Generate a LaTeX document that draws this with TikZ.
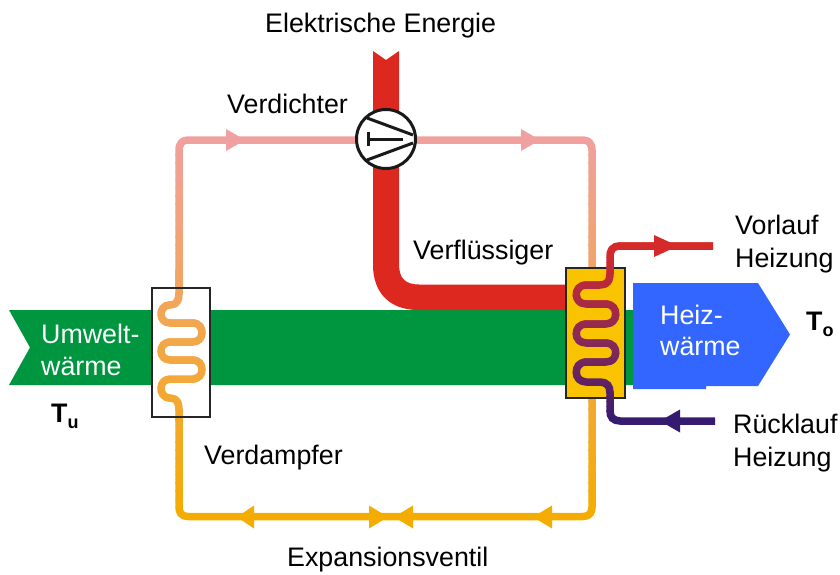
\documentclass[tikz,border=0pt]{standalone}
\usepackage{fontspec}
\setmainfont{Liberation Sans}
\definecolor{greenband}{HTML}{009640}
\definecolor{redfeed}{HTML}{DC281E}
\definecolor{blueheat}{HTML}{3366FF}
\definecolor{yellowbox}{HTML}{F9C300}
\definecolor{pipetop}{HTML}{F0A0A0}
\definecolor{pipebot}{HTML}{F4AC00}
\definecolor{hotred}{HTML}{D42A2A}
\definecolor{midmaroon}{HTML}{8E2A55}
\definecolor{coldpurple}{HTML}{351B70}
\newcommand{\lowsub}[1]{\raisebox{-6.5pt}{\fontsize{18}{20}\selectfont #1}}
\tikzset{
  lab/.style={inner sep=0pt,font=\fontsize{26.8}{30}\selectfont,align=left,text=black},
  whitelab/.style={lab,text=white},
  boldlab/.style={lab,font=\fontsize{26.8}{30}\selectfont\bfseries},
  pipeline/.style={line width=7.5pt,line cap=butt,line join=round},
  hxbox/.style={draw=black!85,line width=2.5pt},
  tip/.style={fill=#1,draw=none},
}
\begin{document}
\begin{tikzpicture}[x=1pt,y=-1pt]
\useasboundingbox (0,0) rectangle (840,575);
% green band
\fill[greenband] (9,310) -- (633,310) -- (633,385) -- (9,385) -- (30,347.5) -- cycle;
% red power feed
\fill[redfeed] (373,51) -- (386,60) -- (399,51) -- (399,264) .. controls (399,278) and (405,284.5) .. (419,284.5) -- (570,284.5) -- (570,310) -- (418,310) .. controls (390,310) and (373,293) .. (373,265) -- cycle;
% refrigerant circuit
\foreach \i in {0,...,47}{
  \pgfmathsetmacro{\ya}{130+\i*8.2}
  \pgfmathsetmacro{\pc}{100-\i*100/47}
  \colorlet{slice}{pipetop!\pc!pipebot}
  \begin{scope}
    \clip (0,\ya) rectangle (840,\ya+8.7);
    \draw[pipeline,slice] (179,296) -- (179,150) .. controls (179,144) and (182,140) .. (188,140) -- (583,140) .. controls (589,140) and (592,144) .. (592,150) -- (592,507) .. controls (592,513) and (589,516.5) .. (583,516.5) -- (188,516.5) .. controls (182,516.5) and (179,513) .. (179,507) -- (179,400);
  \end{scope}
}
% expansion and flow arrows
\fill[tip=pipetop] (245,140) -- (226,129) -- (226,151) -- cycle;
\fill[tip=pipetop] (540,140) -- (521,129) -- (521,151) -- cycle;
\fill[tip=pipebot] (237,517) -- (254,505.5) -- (254,528.5) -- cycle;
\fill[tip=pipebot] (388,517) -- (369,505.5) -- (369,528.5) -- cycle;
\fill[tip=pipebot] (394,517) -- (413,505.5) -- (413,528.5) -- cycle;
\fill[tip=pipebot] (533,517) -- (552,505.5) -- (552,528.5) -- cycle;
% evaporator
\fill[white] (152,288) rectangle (210,417);
\foreach \i in {0,...,33}{
  \pgfmathsetmacro{\ya}{270+\i*4.5}
  \pgfmathsetmacro{\pc}{100-(\ya-130)/3.85}
  \colorlet{slice}{pipetop!\pc!pipebot}
  \begin{scope}
    \clip (0,\ya) rectangle (840,\ya+5);
    \draw[pipeline,slice] (179,270) -- (179,294) .. controls (179,301) and (176,305) .. (170,305)
      .. controls (158,305) and (158,323) .. (170,323) -- (193,323)
      .. controls (205,323) and (205,342) .. (193,342) -- (170,342)
      .. controls (158,342) and (158,360) .. (170,360) -- (193,360)
      .. controls (205,360) and (205,379) .. (193,379) -- (170,379)
      .. controls (158,379) and (158,398) .. (170,398)
      .. controls (176,398) and (179,402) .. (179,409) -- (179,422);
  \end{scope}
}
\draw[hxbox] (152,288) rectangle (210,417);
% condenser
\fill[yellowbox] (566,268) rectangle (625,398);
\draw[hxbox] (566,268) rectangle (625,398);
% heat arrow
\fill[blueheat] (633,283) -- (758,283) -- (790,334.5) -- (758,386) -- (706,386) -- (706,389) -- (633,389) -- cycle;
% heating water circuit
\foreach \i in {0,...,39}{
  \pgfmathsetmacro{\ya}{238+\i*4.8}
  \pgfmathsetmacro{\t}{(\ya-246)/175}
  \pgfmathsetmacro{\pc}{max(0,min(100,100-\t*200))}
  \pgfmathsetmacro{\pd}{max(0,min(100,200-\t*200))}
  \ifdim\t pt<0.5pt \colorlet{slice}{hotred!\pc!midmaroon}\else\colorlet{slice}{midmaroon!\pd!coldpurple}\fi
  \begin{scope}
    \clip (0,\ya) rectangle (840,\ya+5.3);
    \draw[pipeline,slice] (713,246) -- (620,246) .. controls (613,246) and (610,250) .. (610,256) -- (610,274)
      .. controls (610,281) and (607,285) .. (600,285) -- (586,285)
      .. controls (573,285) and (573,304) .. (586,304) -- (606,304)
      .. controls (619,304) and (619,324) .. (606,324) -- (586,324)
      .. controls (573,324) and (573,343) .. (586,343) -- (606,343)
      .. controls (619,343) and (619,362) .. (606,362) -- (586,362)
      .. controls (573,362) and (573,382) .. (586,382) -- (600,382)
      .. controls (607,382) and (610,386) .. (610,393) -- (610,411)
      .. controls (610,417) and (613,421) .. (620,421) -- (715,421);
  \end{scope}
}
\fill[tip=hotred] (678,246) -- (654,235) -- (654,257) -- cycle;
\fill[tip=coldpurple] (660,421) -- (680,409.5) -- (680,432.5) -- cycle;
% compressor
\draw[fill=white,draw=black!90,line width=3pt] (386,139) circle (29.5);
\draw[line width=3pt,black!90] (367,118) -- (413,135) (367,160) -- (413,143);
\draw[line width=3pt,black!90] (403,139) -- (368,139) (368,132.5) -- (368,146);
% labels
\node[lab,anchor=west] (energie) at (265,26) {Elektrische Energie};
\node[lab,anchor=west] (verdichter) at (227,103.5) {Verdichter};
\node[lab,anchor=west] (verfl) at (413,253) {Verflüssiger};
\node[lab,anchor=west] (vorlauf) at (735,224.5) {Vorlauf};
\node[lab,anchor=west] (vheiz) at (735,261) {Heizung};
\node[lab,anchor=west] (ruecklauf) at (733,424) {Rücklauf};
\node[lab,anchor=west] (rheiz) at (733,460) {Heizung};
\node[lab,anchor=west] (verdampfer) at (204,458) {Verdampfer};
\node[lab,anchor=west] (expansion) at (287,560) {Expansionsventil};
\node[whitelab,anchor=west] (umwelt) at (41,334) {Umwelt-};
\node[whitelab,anchor=west] (waerme) at (41,366) {wärme};
\node[whitelab,anchor=west] (heiz) at (660,315) {Heiz-};
\node[whitelab,anchor=west] (hwaerme) at (660,346) {wärme};
\node[boldlab,anchor=base west] (tu) at (51,422) {T\lowsub{u}};
\node[boldlab,anchor=base west] (to) at (806,330) {T\lowsub{o}};
\end{tikzpicture}
\end{document}
